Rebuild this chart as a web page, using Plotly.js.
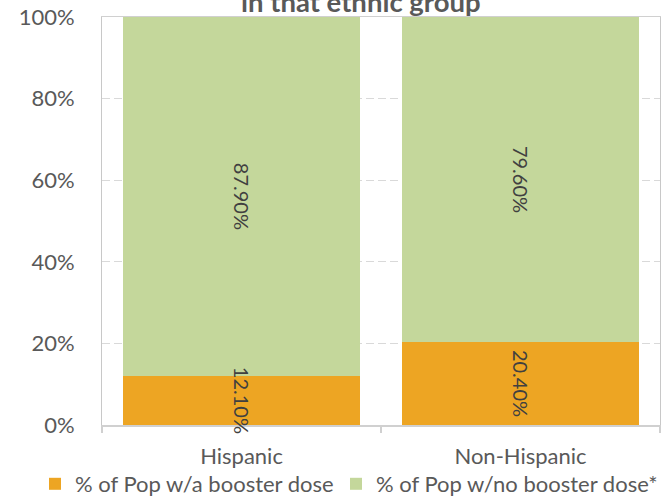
<!DOCTYPE html>
<html>
<head>
<meta charset="utf-8">
<script src="https://cdn.plot.ly/plotly-3.0.1.min.js"></script>
<style>html,body{margin:0;padding:0;background:#fff;overflow:hidden;}#chart{width:661px;height:505px;}</style>
</head>
<body>
<div id="chart"></div>
<script>
const categories = ["Hispanic", "Non-Hispanic"];
const seriesNames = ["% of Pop w/a booster dose", "% of Pop w/no booster dose*"];
const withBooster = [0.121, 0.204];
const withoutBooster = [0.879, 0.796];
const yTickValues = [0, 0.2, 0.4, 0.6, 0.8, 1.0];
const yTickLabels = ["0%", "20%", "40%", "60%", "80%", "100%"];
const titleText = "in that ethnic group";

const FONT = "Lato, 'Open Sans', sans-serif";
const fmt = v => (v * 100).toFixed(2) + "%";

const data = [
  {
    type: "bar", name: seriesNames[0], x: categories, y: withBooster, legend: "legend",
    marker: {color: "#EDA523", line: {width: 0}}, hoverinfo: "skip"
  },
  {
    type: "bar", name: seriesNames[1], x: categories, y: withoutBooster, legend: "legend2",
    marker: {color: "#C4D79B", line: {width: 0}}, hoverinfo: "skip"
  }
];

// data labels: centred in each stacked segment, placed through the axes
const labelAnnotations = [];
categories.forEach((c, i) => {
  const segs = [withBooster[i], withoutBooster[i]];
  let base = 0;
  segs.forEach(v => {
    labelAnnotations.push({
      x: c, y: base + v / 2, xref: "x", yref: "y",
      text: fmt(v), showarrow: false, textangle: 90,
      font: {family: FONT, size: 20, color: "#404040"}
    });
    base += v;
  });
});

const legendCommon = {
  orientation: "h", xref: "container", yref: "container",
  xanchor: "left", y: 0, yanchor: "bottom",
  font: {family: FONT, size: 22, color: "#595959"},
  itemwidth: 30, bgcolor: "rgba(0,0,0,0)"
};

const layout = {
  width: 661, height: 505,
  margin: {l: 102, r: 1, t: 17, b: 80},
  paper_bgcolor: "#fff", plot_bgcolor: "#fff",
  barmode: "stack",
  bargap: 0.147,
  font: {family: FONT, color: "#595959"},
  showlegend: true,
  legend: Object.assign({}, legendCommon, {x: 35 / 661}),
  legend2: Object.assign({}, legendCommon, {x: 336 / 661}),
  xaxis: {
    type: "category",
    showline: true, linecolor: "#d0d0d0", linewidth: 1.5, mirror: true,
    ticks: "outside", tickson: "boundaries", ticklen: 6, tickcolor: "#d0d0d0", tickwidth: 1.5,
    tickfont: {family: FONT, size: 22, color: "#595959"},
    ticklabelstandoff: 11,
    showgrid: false, fixedrange: true
  },
  yaxis: {
    range: [0, 1],
    tickvals: yTickValues, ticktext: yTickLabels,
    tickfont: {family: FONT, size: 22, color: "#595959"},
    ticks: "", ticklabelstandoff: 22,
    showline: true, linecolor: "#c8c8c8", linewidth: 1, mirror: true,
    showgrid: true, gridcolor: "#d9d9d9", gridwidth: 1.2, griddash: "8px,4px",
    zeroline: false, fixedrange: true
  },
  annotations: [{
    text: "<b>" + titleText + "</b>",
    xref: "paper", yref: "paper", x: 0.464, y: 1.0, yanchor: "bottom", xanchor: "center",
    yshift: -3,
    showarrow: false,
    font: {family: FONT, size: 27.5, color: "#595959"}
  }].concat(labelAnnotations)
};

Plotly.newPlot("chart", data, layout, {displayModeBar: false, staticPlot: true});
</script>
</body>
</html>
